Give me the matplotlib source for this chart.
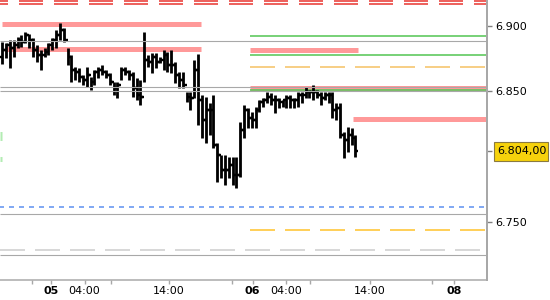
"""
Intraday OHLC chart with support / resistance levels (price around 6.80-6.90).
"""

import matplotlib
matplotlib.use("Agg")
import matplotlib.pyplot as plt
from matplotlib.patches import Rectangle
from matplotlib.transforms import blended_transform_factory


# =========================
#   DATA
# =========================

# one bar every ~27 min, first bar a few hours before day "05"
BAR_START = -5.8
BAR_STEP = 0.457

highs = [
    6.8876, 6.8868, 6.8891, 6.8891, 6.8914, 6.8929, 6.8952, 6.8937, 6.8907, 6.8853,
    6.8815, 6.8830, 6.8868, 6.8907, 6.8968, 6.9021, 6.8983, 6.8830, 6.8776, 6.8684,
    6.8677, 6.8623, 6.8684, 6.8608, 6.8661, 6.8684, 6.8700, 6.8661, 6.8639, 6.8570,
    6.8570, 6.8684, 6.8684, 6.8661, 6.8646, 6.8600, 6.8585, 6.8952, 6.8776, 6.8792,
    6.8792, 6.8761, 6.8815, 6.8799, 6.8815, 6.8723, 6.8646, 6.8646, 6.8493, 6.8493,
    6.8738, 6.8784, 6.8470, 6.8455, 6.8409, 6.8470, 6.8102, 6.8011, 6.8011, 6.7995,
    6.7995, 6.7995, 6.8263, 6.8394, 6.8370, 6.8340, 6.8378, 6.8432, 6.8447, 6.8493,
    6.8485, 6.8470, 6.8447, 6.8432, 6.8470, 6.8470, 6.8447, 6.8493, 6.8493, 6.8531,
    6.8508, 6.8547, 6.8508, 6.8493, 6.8493, 6.8493, 6.8493, 6.8409, 6.8409, 6.8187,
    6.8225, 6.8217, 6.8164,
]

lows = [
    6.8707, 6.8753, 6.8677, 6.8761, 6.8830, 6.8838, 6.8868, 6.8830, 6.8761, 6.8723,
    6.8661, 6.8761, 6.8776, 6.8815, 6.8830, 6.8891, 6.8876, 6.8700, 6.8570, 6.8585,
    6.8570, 6.8547, 6.8531, 6.8508, 6.8547, 6.8600, 6.8623, 6.8600, 6.8547, 6.8470,
    6.8447, 6.8585, 6.8623, 6.8585, 6.8455, 6.8432, 6.8394, 6.8570, 6.8684, 6.8639,
    6.8677, 6.8715, 6.8661, 6.8646, 6.8639, 6.8562, 6.8524, 6.8524, 6.8416, 6.8355,
    6.8447, 6.8240, 6.8141, 6.8102, 6.8164, 6.8064, 6.7804, 6.7835, 6.7781, 6.7835,
    6.7781, 6.7758, 6.7842, 6.8141, 6.8217, 6.8217, 6.8217, 6.8340, 6.8378, 6.8409,
    6.8394, 6.8332, 6.8370, 6.8378, 6.8370, 6.8370, 6.8370, 6.8378, 6.8409, 6.8447,
    6.8447, 6.8432, 6.8447, 6.8394, 6.8432, 6.8409, 6.8294, 6.8279, 6.8141, 6.7988,
    6.8034, 6.8087, 6.7995,
]

closes = [
    6.8815, 6.8853, 6.8830, 6.8853, 6.8891, 6.8876, 6.8929, 6.8891, 6.8815, 6.8776,
    6.8776, 6.8799, 6.8853, 6.8891, 6.8929, 6.8968, 6.8891, 6.8761, 6.8661, 6.8646,
    6.8608, 6.8585, 6.8623, 6.8570, 6.8646, 6.8661, 6.8646, 6.8623, 6.8570, 6.8524,
    6.8547, 6.8661, 6.8646, 6.8623, 6.8524, 6.8470, 6.8455, 6.8738, 6.8723, 6.8761,
    6.8723, 6.8738, 6.8776, 6.8700, 6.8700, 6.8623, 6.8585, 6.8547, 6.8455, 6.8447,
    6.8661, 6.8432, 6.8279, 6.8355, 6.8355, 6.8087, 6.8011, 6.7896, 6.7896, 6.7934,
    6.7858, 6.7858, 6.8202, 6.8355, 6.8294, 6.8279, 6.8355, 6.8416, 6.8432, 6.8455,
    6.8432, 6.8432, 6.8416, 6.8432, 6.8447, 6.8432, 6.8432, 6.8470, 6.8470, 6.8493,
    6.8493, 6.8493, 6.8470, 6.8447, 6.8470, 6.8470, 6.8355, 6.8370, 6.8164, 6.8125,
    6.8164, 6.8141, 6.8040,
]
first_open = 6.8760
last_price = 6.804
last_label = "6.804,00"

# x axis (hours from day 05 00:00)
x_ticks = [0, 4, 14, 24, 28, 38, 48]
x_labels = ["05", "04:00", "14:00", "06", "04:00", "14:00", "08"]
day_labels = ["05", "06", "08"]
x_minor = [-2.25, 7.15, 21.5, 30.8, 45.4]

y_ticks = [6.750, 6.804, 6.850, 6.900]
y_labels = ["6.750", "", "6.850", "6.900"]

# price levels: (price, start hour, end hour); None = to the edge
zone_levels = [(6.9012, -5.85, 17.86), (6.8823, -5.5, 17.86),
               (6.8815, 23.69, 36.55), (6.8526, 23.69, None),
               (6.8290, 35.95, None)]
green_levels = [6.8922, 6.8777, 6.8509]
gray_levels = [6.8882, 6.8528, 6.8501, 6.7557, 6.7243]
red_levels = [6.9190, 6.9167]
orange_levels = [(6.8685, "#f5c060"), (6.7433, "#ffc125")]
blue_level = 6.7611
lightgray_level = 6.7284
stub_levels = [(6.8155, 9), (6.7979, 5)]

X_MIN, X_MAX = -6.071, 51.905
Y_MIN, Y_MAX = 6.70535, 6.91975
PX = 0.72  # points per pixel at dpi 100


def draw_levels(ax):
    right = X_MAX
    for price, x0, x1 in zone_levels:
        ax.hlines(price, x0, right if x1 is None else x1, color="#ff9999",
                  lw=5 * PX, zorder=1)
    for price in green_levels:
        ax.hlines(price, 23.69, right, color="#5ac85a", lw=1.6 * PX, zorder=2)
    for price in red_levels:
        ax.hlines(price, X_MIN, right, color="#e8302a", lw=1.5 * PX, zorder=2,
                  linestyles=[(16 * PX, (24 * PX, 11 * PX))])
    for price, col in orange_levels:
        ax.hlines(price, 23.69, right, color=col, lw=1.5 * PX, zorder=2,
                  linestyles=[(0, (25 * PX, 10 * PX))])
    ax.hlines(blue_level, X_MIN, right, color="#5b8ff0", lw=1.5 * PX, zorder=2,
              linestyles=[(1 * PX, (5 * PX, 5 * PX))])
    ax.hlines(lightgray_level, X_MIN, right, color="#cccccc", lw=1.5 * PX, zorder=2,
              linestyles=[(0, (25 * PX, 10 * PX))])
    for price, w in stub_levels:
        ax.hlines(price, X_MIN, X_MIN + 2 / 8.4, color="#b3ecb3", lw=w * PX, zorder=2)
    for price in gray_levels:
        ax.hlines(price, X_MIN, right, color="#a8a8a8", lw=1.1 * PX, zorder=4)


def draw_bars(ax):
    times = [BAR_START + i * BAR_STEP for i in range(len(highs))]
    opens = [first_open] + closes[:-1]
    w = 0.33
    ax.vlines(times, lows, highs, color="black", lw=2.8 * PX, zorder=3)
    ax.hlines(opens, [t - w for t in times], times, color="black", lw=2.4 * PX, zorder=3)
    ax.hlines(closes, times, [t + w for t in times], color="black", lw=2.4 * PX, zorder=3)


def main():
    plt.rcParams["lines.scale_dashes"] = False
    plt.rcParams["font.family"] = "DejaVu Sans"

    fig = plt.figure(figsize=(5.5, 3.0), dpi=100)
    ax = fig.add_axes([0, 20 / 300, 487 / 550, 280 / 300])

    draw_levels(ax)
    draw_bars(ax)

    ax.set_xlim(X_MIN, X_MAX)
    ax.set_ylim(Y_MIN, Y_MAX)

    for side in ("top", "left"):
        ax.spines[side].set_visible(False)
    ax.spines["right"].set_color("#a8a8a8")
    ax.spines["right"].set_linewidth(2 * PX)
    ax.spines["bottom"].set_color("#a8a8a8")
    ax.spines["bottom"].set_linewidth(1.5 * PX)

    ax.yaxis.tick_right()
    ax.set_yticks(y_ticks)
    ax.set_yticklabels(y_labels)
    ax.tick_params(axis="y", length=5 * PX, width=1, color="#808080",
                   labelsize=8, pad=2)

    ax.set_xticks(x_ticks)
    ax.set_xticklabels(x_labels)
    ax.set_xticks(x_minor, minor=True)
    ax.tick_params(axis="x", which="both", length=4 * PX, width=1, color="#a8a8a8",
                   labelsize=8, pad=1.5)
    for lab in ax.get_xticklabels():
        if lab.get_text() in day_labels:
            lab.set_fontweight("bold")

    # last price marker on the right axis
    fig.patches.append(Rectangle((494 / 550, (300 - 161) / 300), 54 / 550, 19 / 300,
                                 transform=fig.transFigure, facecolor="#f6d20c",
                                 edgecolor="#8a7a40", lw=0.8, zorder=5))
    trans = blended_transform_factory(fig.transFigure, ax.transData)
    fig.text(497 / 550, last_price, last_label, transform=trans, va="center",
             ha="left", fontsize=8, zorder=6)

    fig.savefig("out.png", dpi=100)
    plt.close(fig)


if __name__ == "__main__":
    main()
